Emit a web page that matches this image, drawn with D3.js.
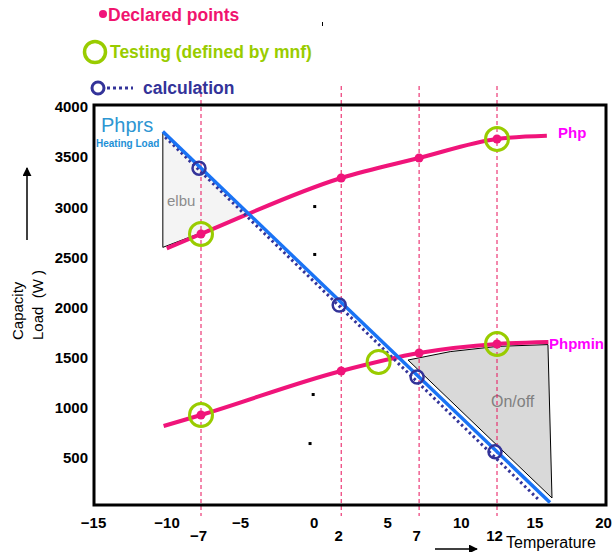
<!DOCTYPE html>
<html>
<head>
<meta charset="utf-8">
<script src="https://cdn.jsdelivr.net/npm/d3@7"></script>
<style>
    body { margin: 0; background: #fff; }
    svg { display: block; font-family: "Liberation Sans", Arial, sans-serif; }
</style>
</head>
<body>
<svg id="chart" width="613" height="552"></svg>
<script>
// values
var xTicks = [-15, -10, -5, 0, 5, 10, 15, 20];
var yTicks = [500, 1000, 1500, 2000, 2500, 3000, 3500, 4000];
var declaredTemps = [-7, 2, 7, 12];

var phpTemps = [-9.2, -7, 2, 7, 12, 15.2];
var phpValues = [2590, 2733, 3292, 3491, 3681, 3712];

var phpminTemps = [-9.4, -7, 2, 7, 12, 15.3];
var phpminValues = [818, 928, 1367, 1546, 1636, 1656];

var loadTemps = [-9.45, 15.4];
var loadValues = [3755, 55];

var calcLineTemps = [-9.3, 14.76];
var calcLineValues = [3700, 70];
var calcValues = [3390, 2025, 1307, 560];

var testTemps = [-7, 12, -7, 12, 4.4];
var testValues = [2733, 3681, 928, 1636, 1456];

var elbuTemps = [-9.45, -9.45, -7, -3.95];
var elbuValues = [3740, 2600, 2745, 2936];

var onoffTemps = [6.29, 9, 12, 15.27, 15.53];
var onoffValues = [1476, 1560, 1612, 1630, 100];

var strayTemps = [0.3, 0.3, 0.2, 0];
var strayValues = [3012, 2534, 1137, 648];

var pink = "#f0147a", green = "#99cc00", navy = "#333399", blue = "#1a73f5";

function zip(a, b) {
    return a.map(function (d, i) { return [d, b[i]]; });
}

var svg = d3.select("#chart");

// main axis scale and the one used for the test temperatures row
var x = d3.scaleLinear().domain([-15, 20]).range([93, 608]),
    xd = d3.scaleLinear().domain([-7, 12]).range([201, 497]),
    y = d3.scaleLinear().domain([0, 4000]).range([508, 107]);

var line = d3.line()
    .x(function (d) { return xd(d[0]); })
    .y(function (d) { return y(d[1]); });

var curve = d3.line()
    .curve(d3.curveMonotoneX)
    .x(function (d) { return xd(d[0]); })
    .y(function (d) { return y(d[1]); });

// shaded areas
svg.append("path")
    .attr("d", line(zip(elbuTemps, elbuValues)) + "Z")
    .attr("fill", "#f4f4f4")
    .attr("stroke", "#000")
    .attr("stroke-width", 1);

svg.append("path")
    .attr("d", line(zip(onoffTemps, onoffValues)) + "Z")
    .attr("fill", "#d9d9d9")
    .attr("stroke", "#000")
    .attr("stroke-width", 1);

svg.append("text").attr("x", 167).attr("y", 206).attr("font-size", 15)
    .attr("fill", "#8c8c8c").text("elbu");
svg.append("text").attr("x", 491).attr("y", 407).attr("font-size", 16)
    .attr("fill", "#808080").text("On/off");

// dashed verticals at the declared temperatures
svg.selectAll(".vline")
    .data(declaredTemps)
    .enter().append("line")
    .attr("class", "vline")
    .attr("x1", function (d) { return xd(d); })
    .attr("x2", function (d) { return xd(d); })
    .attr("y1", 86)
    .attr("y2", 516)
    .attr("stroke", "#e8105a")
    .attr("stroke-width", 1)
    .attr("stroke-dasharray", "4,3");

// frame
svg.append("rect")
    .attr("x", 94).attr("y", 105)
    .attr("width", 512).attr("height", 400)
    .attr("fill", "none")
    .attr("stroke", "#000")
    .attr("stroke-width", 3);

// capacity curves
svg.append("path")
    .attr("d", curve(zip(phpTemps, phpValues)))
    .attr("fill", "none").attr("stroke", pink).attr("stroke-width", 4);

svg.append("path")
    .attr("d", curve(zip(phpminTemps, phpminValues)))
    .attr("fill", "none").attr("stroke", pink).attr("stroke-width", 4);

// heating load and calculation line
svg.append("path")
    .attr("d", line(zip(calcLineTemps, calcLineValues)))
    .attr("fill", "none").attr("stroke", navy)
    .attr("stroke-width", 3).attr("stroke-dasharray", "2.5,3");

svg.append("path")
    .attr("d", line(zip(loadTemps, loadValues)))
    .attr("fill", "none").attr("stroke", blue).attr("stroke-width", 3.5);

// declared points
svg.selectAll(".dec")
    .data(zip(declaredTemps, phpValues.slice(1, 5)).concat(zip(declaredTemps, phpminValues.slice(1, 5))))
    .enter().append("circle")
    .attr("class", "dec")
    .attr("cx", function (d) { return xd(d[0]); })
    .attr("cy", function (d) { return y(d[1]); })
    .attr("r", 4.5)
    .attr("fill", pink);

// testing points
svg.selectAll(".test")
    .data(zip(testTemps, testValues))
    .enter().append("circle")
    .attr("class", "test")
    .attr("cx", function (d) { return xd(d[0]); })
    .attr("cy", function (d) { return y(d[1]); })
    .attr("r", 11.5)
    .attr("fill", "none")
    .attr("stroke", green)
    .attr("stroke-width", 3);

// calculation points
svg.selectAll(".calc")
    .data(zip(declaredTemps, calcValues))
    .enter().append("circle")
    .attr("class", "calc")
    .attr("cx", function (d) { return xd(d[0]) - 2; })
    .attr("cy", function (d) { return y(d[1]); })
    .attr("r", 6.5)
    .attr("fill", "none")
    .attr("stroke", navy)
    .attr("stroke-width", 2.5);

// small stray marks
svg.selectAll(".stray")
    .data(zip(strayTemps, strayValues))
    .enter().append("rect")
    .attr("class", "stray")
    .attr("x", function (d) { return xd(d[0]) - 1.5; })
    .attr("y", function (d) { return y(d[1]) - 1; })
    .attr("width", 3).attr("height", 3)
    .attr("fill", "#000");
svg.append("rect").attr("x", 322).attr("y", 22).attr("width", 1).attr("height", 4).attr("fill", "#000");

// curve labels
svg.append("text").attr("x", 558).attr("y", 138).attr("font-size", 15)
    .attr("font-weight", "bold").attr("fill", "#ff00ff").text("Php");
svg.append("text").attr("x", 549).attr("y", 349).attr("font-size", 15)
    .attr("font-weight", "bold").attr("fill", "#ff00ff").text("Phpmin");
svg.append("text").attr("x", 101).attr("y", 132).attr("font-size", 20)
    .attr("fill", "#2e96d2").text("Phprs");
svg.append("text").attr("x", 96).attr("y", 147).attr("font-size", 10)
    .attr("font-weight", "bold").attr("fill", "#1e90d6").text("Heating Load");

// axes
var yAxis = svg.append("g")
    .attr("transform", "translate(94,0)")
    .call(d3.axisLeft(y).tickValues(yTicks).tickSize(0).tickPadding(6).tickFormat(d3.format("d")));

var xAxis = svg.append("g")
    .attr("transform", "translate(0,505)")
    .call(d3.axisBottom(x).tickValues(xTicks).tickSize(0).tickPadding(12).tickFormat(d3.format("d")));

var xAxis2 = svg.append("g")
    .attr("transform", "translate(0,505)")
    .call(d3.axisBottom(xd).tickValues(declaredTemps).tickSize(0).tickPadding(25).tickFormat(d3.format("d")));

[yAxis, xAxis, xAxis2].forEach(function (g) {
    g.select(".domain").remove();
    g.selectAll("text")
        .attr("font-family", "Liberation Sans, Arial, sans-serif")
        .attr("font-size", 15)
        .attr("font-weight", "bold")
        .attr("fill", "#000");
});
xAxis2.selectAll("text").attr("dx", -3);
// keep the last label inside the window
xAxis.selectAll("text").filter(function (d) { return d === 20; }).attr("dx", -5);

// axis titles and arrows
svg.append("defs").append("marker")
    .attr("id", "head")
    .attr("viewBox", "0 0 10 10")
    .attr("refX", 9).attr("refY", 5)
    .attr("markerWidth", 6).attr("markerHeight", 6)
    .attr("orient", "auto")
    .append("path").attr("d", "M0,0L10,5L0,10Z").attr("fill", "#000");

svg.append("line").attr("x1", 27).attr("y1", 240).attr("x2", 27).attr("y2", 168)
    .attr("stroke", "#000").attr("stroke-width", 1.5).attr("marker-end", "url(#head)");
svg.append("line").attr("x1", 435).attr("y1", 549).attr("x2", 477).attr("y2", 549)
    .attr("stroke", "#000").attr("stroke-width", 1.5).attr("marker-end", "url(#head)");

svg.append("text").attr("transform", "translate(23,340) rotate(-90)")
    .attr("font-size", 15).attr("fill", "#000").text("Capacity");
svg.append("text").attr("transform", "translate(43,340) rotate(-90)")
    .attr("font-size", 15).attr("fill", "#000").attr("xml:space", "preserve").text("Load  (W )");
svg.append("text").attr("x", 506).attr("y", 548)
    .attr("font-size", 16).attr("fill", "#000").text("Temperature");

// legend
var legend = svg.append("g").attr("font-size", 17.5).attr("font-weight", "bold");
legend.append("circle").attr("cx", 103).attr("cy", 14).attr("r", 4).attr("fill", pink);
legend.append("text").attr("x", 108).attr("y", 21).attr("fill", "#f0146e").text("Declared points");
legend.append("circle").attr("cx", 95).attr("cy", 52).attr("r", 10.5)
    .attr("fill", "none").attr("stroke", green).attr("stroke-width", 3.5);
legend.append("text").attr("x", 110).attr("y", 58).attr("fill", green).text("Testing (defined by mnf)");
legend.append("circle").attr("cx", 98).attr("cy", 88).attr("r", 6)
    .attr("fill", "none").attr("stroke", navy).attr("stroke-width", 3);
legend.append("line").attr("x1", 107).attr("y1", 88).attr("x2", 133).attr("y2", 88)
    .attr("stroke", navy).attr("stroke-width", 3).attr("stroke-dasharray", "3,3");
legend.append("text").attr("x", 143).attr("y", 94).attr("fill", navy).text("calculation");
</script>
</body>
</html>
